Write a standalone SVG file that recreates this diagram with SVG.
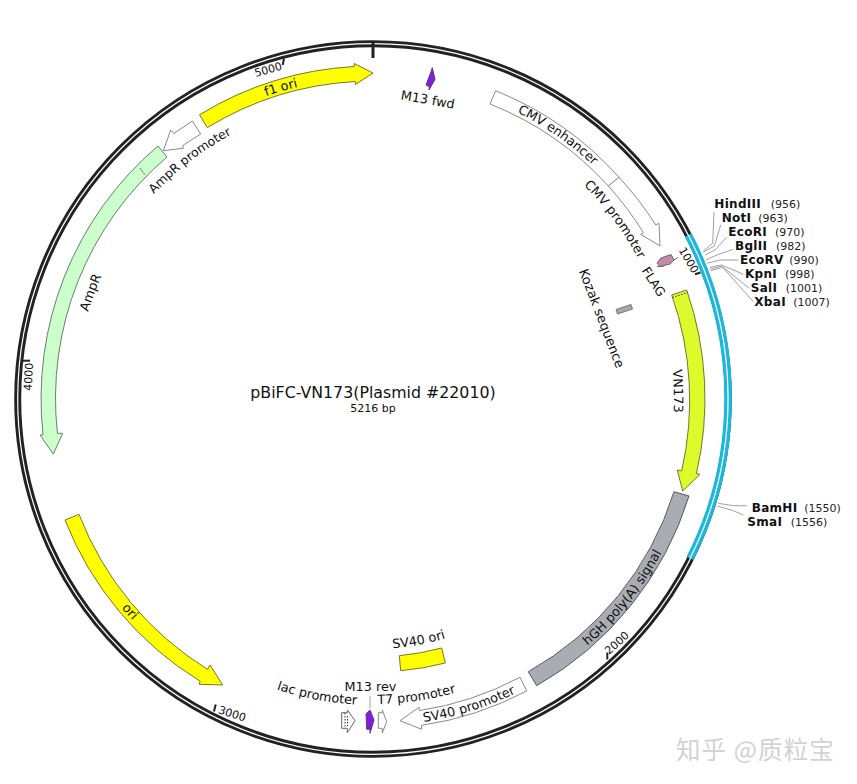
<svg xmlns="http://www.w3.org/2000/svg" xmlns:xlink="http://www.w3.org/1999/xlink" width="857" height="784" viewBox="0 0 857 784">
<style>
text{font-family:"DejaVu Sans","Liberation Sans",sans-serif;fill:#111}
.lb{font-size:12.8px;text-anchor:middle}
.tk{font-size:11px;text-anchor:middle}
.en{font-size:12px;font-weight:bold;letter-spacing:.3px}
.ps{font-size:11px;fill:#222}
.f{stroke-width:1;stroke-linejoin:miter}
.wh{fill:#fff;stroke:#8a8a8a}
.ye{fill:#ffff00;stroke:#77772a}
.gr{fill:#ccffcc;stroke:#66806c}
.pu{fill:#7f20d8;stroke:#5b3a80}
.lead{fill:none;stroke:#a0a0a0;stroke-width:1}
.tick{stroke:#222;stroke-width:2;fill:none}
.dot{fill:none;stroke:#333;stroke-width:1;stroke-dasharray:1.5 1.5}
</style>
<defs>
<path id="pF1" d="M212.5,121A321,321 0 0 1 356.2,78.4"/>
<path id="pEnh" d="M482.8,97.4A321,321 0 0 1 618.9,192.7"/>
<path id="pCmv" d="M559.3,163.8A300,300 0 0 1 652,288.6"/>
<path id="pVN" d="M668,339.1A301,301 0 0 1 670.7,443.5"/>
<path id="pHgh" d="M543.8,677.9A327,327 0 0 0 683,502.7"/>
<path id="pSvp" d="M386.7,725.7A327,327 0 0 0 548.2,675"/>
<path id="pT7" d="M337.4,701.9A305,305 0 0 0 493.8,679"/>
<path id="pLac" d="M240.2,674.7A306,306 0 0 0 396,704.1"/>
<path id="pSvo" d="M354.3,648.3A250,250 0 0 0 481.5,624.3"/>
<path id="pApp" d="M131.8,220.5A300,300 0 0 1 263,120"/>
<path id="pAmp" d="M76.5,369.5A298,298 0 0 1 131,225.3"/>
<path id="pOri" d="M79.6,543.2A327,327 0 0 0 191.2,670.7"/>
</defs>
<rect width="857" height="784" fill="#fff"/>
<g id="backbone">
<circle cx="373" cy="399" r="355.3" fill="none" stroke="#222" stroke-width="7"/>
<circle cx="373" cy="399" r="355.3" fill="none" stroke="#fff" stroke-width="1.2"/>
<path d="M688.3,235A355.3,355.3 0 0 1 690,558.3" fill="none" stroke="#1cb8dc" stroke-width="7.6"/>
<path d="M688.3,235A355.3,355.3 0 0 1 690,558.3" fill="none" stroke="#fff" stroke-width="1.2"/>
</g>
<g id="connectors">
<path class="tick" style="stroke-width:3" d="M373,43V58"/>
<path class="tick" d="M284,58.5L282.7,65"/>
<path class="tick" d="M22.7,360.7H30"/>
<path class="tick" d="M215.7,704.5L214,711.5"/>
<path class="tick" d="M607.3,652.5V659.5"/>
<path class="tick" d="M695,274.3L700.5,272.5"/>
<path class="lead" d="M714,211.7L712.7,243.3L703.3,251"/>
<path class="lead" d="M720.7,225L714.3,246L703.3,252.3"/>
<path class="lead" d="M726.7,237.3L715,250L705,255"/>
<path class="lead" d="M733.3,249.3L716.7,255L706,260"/>
<path class="lead" d="M738.3,260H720L707.3,263.3"/>
<path class="lead" d="M743.3,274.3L721.7,265L710,267.3"/>
<path class="lead" d="M749.3,288.3L721.7,266L710,269.3"/>
<path class="lead" d="M753.3,301.7L722.7,267.3L710.7,270.7"/>
<path class="lead" d="M746.7,505.7H733.3L718.3,503.3"/>
<path class="lead" d="M743.3,515L733.3,510.7L717.3,506"/>
<path class="lead" d="M370,696V708.3"/>
</g>
<g id="f1-ori">
<path class="f ye" d="M199.5,114.8A333,333 0 0 1 354.4,66.5L354.2,63.5L373,73L355.4,84.5L355.3,81.5A318,318 0 0 0 207.3,127.6Z"/>
<text class="lb"><textPath xlink:href="#pF1" href="#pF1" startOffset="50%">f1 ori</textPath></text>
</g>
<g id="m13-fwd">
<path class="f pu" d="M426,85L431,71.7L432.3,67.7L435,79.3L429,90L429.3,86.7Z"/>
<text class="lb" transform="translate(427,104) rotate(10)">M13 fwd</text>
</g>
<g id="cmv-enhancer">
<path class="f wh" d="M495.7,90.7A332,332 0 0 1 619,177.3L608.3,186A317.5,317.5 0 0 0 490,104Z"/>
<text class="lb"><textPath xlink:href="#pEnh" href="#pEnh" startOffset="50%">CMV enhancer</textPath></text>
</g>
<g id="cmv-promoter">
<path class="f wh" d="M619,177.3A332,332 0 0 1 655.8,225L659,223.3L660,246L640.7,234.3L643.4,232.6A317.5,317.5 0 0 0 608.3,186Z"/>
<text class="lb"><textPath xlink:href="#pCmv" href="#pCmv" startOffset="50%">CMV promoter</textPath></text>
</g>
<g id="flag">
<path class="lead" style="stroke:#666" d="M670,262L678,257.5M657,266.5L664,266"/>
<path class="f" fill="#c58aa8" stroke="#7a5a6a" d="M661,258L671,254.5L674,260L670,264L660,266.5L657,263Z"/>
<text class="lb" style="font-size:12.5px" transform="translate(650,284) rotate(57)">FLAG</text>
</g>
<g id="kozak">
<path class="f" fill="#a8a8a8" stroke="#777" d="M616,309.5L631,304.5L632.5,309L617.5,314Z"/>
<text class="lb" style="font-size:13px" transform="translate(597.6,320) rotate(69)">Kozak sequence</text>
</g>
<g id="vn173">
<path class="f" fill="#dcfa2c" stroke="#6f7a28" d="M671.7,295A316.5,316.5 0 0 1 681.7,470.8L677.3,470L682.7,491L700,474.3L696.4,473.7A332,332 0 0 0 686.7,290Z"/>
<path class="dot" d="M672.5,297.5L687.5,292.5"/>
<text class="lb"><textPath xlink:href="#pVN" href="#pVN" startOffset="50%">VN173</textPath></text>
</g>
<g id="hgh">
<path class="f" fill="#a9adb3" stroke="#555a60" d="M689,496A330.5,330.5 0 0 1 536.7,685.7L528.3,671.7A314.5,314.5 0 0 0 674,491.7Z"/>
<text class="lb"><textPath xlink:href="#pHgh" href="#pHgh" startOffset="50%">hGH poly(A) signal</textPath></text>
</g>
<g id="sv40-promoter">
<path class="f wh" d="M520,677.3A315,315 0 0 1 419.3,710.6L419,707.3L400,720.7L421.7,729.3L421.5,725.4A330,330 0 0 0 526.7,691Z"/>
<text class="lb"><textPath xlink:href="#pSvp" href="#pSvp" startOffset="50%">SV40 promoter</textPath></text>
</g>
<g id="sv40-ori">
<path class="f ye" d="M399.3,655.7A258,258 0 0 0 441.7,648L445.3,663A273,273 0 0 1 400.7,670.7Z"/>
<text class="lb"><textPath xlink:href="#pSvo" href="#pSvo" startOffset="50%">SV40 ori</textPath></text>
</g>
<g id="t7-promoter">
<path class="f wh" d="M378.3,712.7H382.3V710L386.7,721.7L382.3,733V728.3H378.3Z"/>
<text class="lb"><textPath xlink:href="#pT7" href="#pT7" startOffset="50%">T7 promoter</textPath></text>
</g>
<g id="m13-rev">
<path class="f pu" d="M366,714L370,710L374,720L370,733.3L370,729.3H366.7Z"/>
<text class="lb" x="370.5" y="690.7">M13 rev</text>
</g>
<g id="lac-promoter">
<path class="f wh" style="stroke:#666" d="M341.7,712.7H347.3V710L355,720.7L347.3,732.7V728.3H341.7Z"/>
<path class="dot" d="M345,713V728M347.5,716V726"/>
<text class="lb"><textPath xlink:href="#pLac" href="#pLac" startOffset="50%">lac promoter</textPath></text>
</g>
<g id="ori">
<path class="f ye" d="M65,520A331,331 0 0 0 200.1,681.2L199.3,684.3L222.7,685L210,665L207.4,669.3A317,317 0 0 1 79,514.3Z"/>
<text class="lb"><textPath xlink:href="#pOri" href="#pOri" startOffset="50%">ori</textPath></text>
</g>
<g id="ampr">
<path class="f gr" d="M158,146A332,332 0 0 0 43,434.9L40,435L53.3,454L62.7,433.3L57.4,433.3A317.5,317.5 0 0 1 167,157Z"/>
<path class="dot" style="stroke:#222" d="M140,168.3L145,175"/>
<text class="lb"><textPath xlink:href="#pAmp" href="#pAmp" startOffset="50%">AmpR</textPath></text>
</g>
<g id="ampr-promoter">
<path class="f wh" d="M192.3,121L173.7,133.5L170.7,130L163.3,150.7L183.3,148.3L182.7,145.5L200.7,134Z"/>
<text class="lb" style="font-size:12.4px"><textPath xlink:href="#pApp" href="#pApp" startOffset="50%">AmpR promoter</textPath></text>
</g>
<g id="tick-labels">
<text class="tk" transform="translate(269.3,73.2) rotate(-16)">5000</text>
<text class="tk" transform="translate(32.3,377) rotate(-87)">4000</text>
<text class="tk" transform="translate(231,717.3) rotate(18)">3000</text>
<text class="tk" transform="translate(619.4,645.7) rotate(-42)">2000</text>
<text class="tk" transform="translate(685.5,262) rotate(60)">1000</text>
</g>
<g id="title">
<text x="373" y="398" font-size="15.8" text-anchor="middle">pBiFC-VN173(Plasmid #22010)</text>
<text x="373" y="412" font-size="11" text-anchor="middle">5216 bp</text>
</g>
<g id="sites">
<g id="hindiii"><text class="en" x="714.3" y="207.7">HindIII</text><text class="ps" x="770.7" y="207.7">(956)</text></g>
<g id="noti"><text class="en" x="721.7" y="221.7">NotI</text><text class="ps" x="758.3" y="221.7">(963)</text></g>
<g id="ecori"><text class="en" x="728.3" y="235.7">EcoRI</text><text class="ps" x="775" y="235.7">(970)</text></g>
<g id="bglii"><text class="en" x="735" y="249.5">BglII</text><text class="ps" x="776" y="249.5">(982)</text></g>
<g id="ecorv"><text class="en" x="740" y="263.5">EcoRV</text><text class="ps" x="789.3" y="263.5">(990)</text></g>
<g id="kpni"><text class="en" x="745" y="277.7">KpnI</text><text class="ps" x="785" y="277.7">(998)</text></g>
<g id="sali"><text class="en" x="750.7" y="291.7">SalI</text><text class="ps" x="785.7" y="291.7">(1001)</text></g>
<g id="xbai"><text class="en" x="754.3" y="305.7">XbaI</text><text class="ps" x="793.3" y="305.7">(1007)</text></g>
<g id="bamhi"><text class="en" x="751.7" y="511.7">BamHI</text><text class="ps" x="804.3" y="511.7">(1550)</text></g>
<g id="smai"><text class="en" x="747.3" y="525.7">SmaI</text><text class="ps" x="790.7" y="525.7">(1556)</text></g>
</g>
<text id="watermark" x="676" y="759" style="font-family:'Noto Sans CJK SC',sans-serif;font-size:24.5px;letter-spacing:1.1px;fill:#d2d2d2">知乎 @质粒宝</text>
</svg>
